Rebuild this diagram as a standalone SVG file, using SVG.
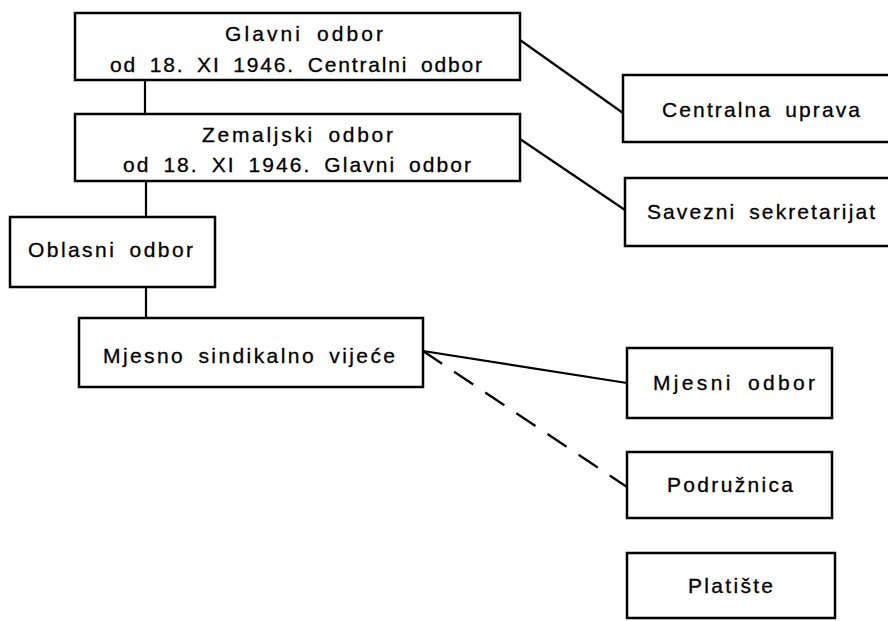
<svg xmlns="http://www.w3.org/2000/svg" width="888" height="621" viewBox="0 0 888 621">
<style>
.box{fill:#fff;stroke:#000;stroke-width:2.5}
.lbl{font-family:"Liberation Sans",Arial,sans-serif;font-size:21px;fill:#000;stroke:#000;stroke-width:0.3;word-spacing:5px}
.ln{stroke:#000;stroke-width:2.2;fill:none}
.dash{stroke-dasharray:23 14.4}
</style>
<rect width="888" height="621" fill="#fff"/>
<g id="connectors">
<line class="ln" x1="145" y1="80" x2="145" y2="114"/>
<line class="ln" x1="146" y1="181" x2="146" y2="217"/>
<line class="ln" x1="146" y1="287" x2="146" y2="318"/>
<line class="ln" x1="520" y1="40" x2="623" y2="113"/>
<line class="ln" x1="520" y1="139" x2="625" y2="210"/>
<line class="ln" x1="423" y1="351" x2="627" y2="383"/>
<line class="ln dash" x1="423" y1="351" x2="627" y2="487"/>
</g>
<g id="glavni">
<rect class="box" x="75" y="13" width="445" height="67"/>
<text class="lbl" x="225" y="41" textLength="158" lengthAdjust="spacing">Glavni odbor</text>
<text class="lbl" x="110" y="72" textLength="372" lengthAdjust="spacing">od 18. XI 1946. Centralni odbor</text>
</g>
<g id="zemaljski">
<rect class="box" x="75" y="114" width="445" height="67"/>
<text class="lbl" x="202" y="142" textLength="191" lengthAdjust="spacing">Zemaljski odbor</text>
<text class="lbl" x="123" y="172" textLength="348" lengthAdjust="spacing">od 18. XI 1946. Glavni odbor</text>
</g>
<g id="oblasni">
<rect class="box" x="10" y="217" width="205" height="70"/>
<text class="lbl" x="28" y="257" textLength="165" lengthAdjust="spacing">Oblasni odbor</text>
</g>
<g id="mjesno">
<rect class="box" x="79" y="318" width="344" height="69"/>
<text class="lbl" x="103" y="363" textLength="292" lengthAdjust="spacing">Mjesno sindikalno vijeće</text>
</g>
<g id="centralna">
<rect class="box" x="623" y="75" width="275" height="67"/>
<text class="lbl" x="662" y="117" textLength="198" lengthAdjust="spacing">Centralna uprava</text>
</g>
<g id="savezni">
<rect class="box" x="625" y="178" width="273" height="68"/>
<text class="lbl" x="647" y="219" textLength="228" lengthAdjust="spacing">Savezni sekretarijat</text>
</g>
<g id="mjesni">
<rect class="box" x="627" y="348" width="205" height="70"/>
<text class="lbl" x="653" y="390" textLength="162" lengthAdjust="spacing">Mjesni odbor</text>
</g>
<g id="podruznica">
<rect class="box" x="627" y="452" width="205" height="66"/>
<text class="lbl" x="667" y="492" textLength="126" lengthAdjust="spacing">Podružnica</text>
</g>
<g id="platiste">
<rect class="box" x="627" y="553" width="208" height="65"/>
<text class="lbl" x="688" y="593" textLength="85" lengthAdjust="spacing">Platište</text>
</g>
</svg>
